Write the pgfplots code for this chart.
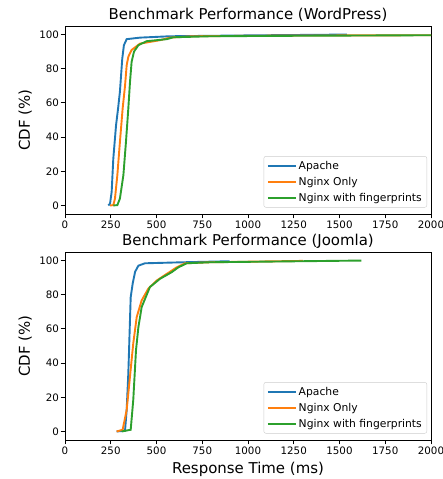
\documentclass[border=0pt]{standalone}
\usepackage{fontspec}
\setmainfont{DejaVu Sans}
\usepackage{pgfplots}
\pgfplotsset{compat=1.18}

\definecolor{c0}{HTML}{1F77B4}
\definecolor{c1}{HTML}{FF7F0E}
\definecolor{c2}{HTML}{2CA02C}

\pgfplotsset{
  cdfaxis/.style={
    scale only axis,
    width=366bp, height=188bp,
    xmin=0, xmax=2000, ymin=-5, ymax=105,
    xtick={0,250,...,2000}, ytick={0,20,...,100},
    tick align=outside, tick pos=left,
    major tick length=4.4bp,
    every tick/.style={black, line width=1bp},
    axis line style={black, line width=1bp},
    /pgf/number format/assume math mode=true,
    /pgf/number format/1000 sep={},
    tick label style={font=\fontsize{10.3}{12}\selectfont},
    yticklabel style={inner xsep=1.5bp},
    xticklabel style={inner ysep=2.5bp},
    title style={font=\fontsize{15}{18}\selectfont, at={(axis description cs:0.5,1)}, anchor=base, yshift=0.5bp},
    ylabel={CDF (\%)},
    every axis y label/.style={at={(axis description cs:-0.109,0.5)}, anchor=center, rotate=90, font=\fontsize{15}{18}\selectfont},
    every axis x label/.style={at={(axis description cs:0.5,-0.18)}, anchor=base, font=\fontsize{15}{18}\selectfont},
    legend cell align=left,
    legend style={at={(rel axis cs:1,0)}, anchor=south east, xshift=-4bp, yshift=6.5bp,
      draw=black!20, rounded corners=2pt, fill=white,
      font=\fontsize{10.8}{12}\selectfont, inner xsep=3bp, inner ysep=2.5bp, row sep=2.5bp},
    legend image code/.code={\draw[#1, line width=1.9bp] (0bp,0bp) -- (23bp,0bp);
      \path (-1bp,0bp) -- (27bp,0bp);},
    every axis plot/.append style={line width=1.9bp, mark=none},
  }
}

\begin{document}
\begin{tikzpicture}
\useasboundingbox (0,0) rectangle (443bp,-479bp);

\begin{axis}[cdfaxis, at={(65bp,-26bp)}, anchor=north west,
  title={Benchmark Performance (WordPress)}]
\addplot[color=c0] coordinates {(237,0) (246,1) (255,8) (264,27.5) (279,47) (290,56.7) (300,66.5) (313,86) (322,93.8) (337,97.3) (410,98.2) (574,99) (1000,99.5) (1540,100)};
\addlegendentry{Apache}
\addplot[color=c1] coordinates {(246,0) (264,0.2) (273,4) (286,17.7) (300,37) (315,56.7) (328,70) (337,82) (346,87) (364,91) (410,94.7) (519,96.7) (574,98.2) (701,99) (1200,99.4) (2000,99.6)};
\addlegendentry{Nginx Only}
\addplot[color=c2] coordinates {(264,0) (286,0.2) (300,4) (319,17.7) (333,37) (346,56.7) (355,72) (364,84) (377,90) (401,93.8) (446,96.1) (556,97.3) (592,98.4) (792,99) (1300,99.3) (2000,99.6)};
\addlegendentry{Nginx with fingerprints}
\end{axis}

\begin{axis}[cdfaxis, at={(65bp,-252bp)}, anchor=north west,
  title={Benchmark Performance (Joomla)}, xlabel={Response Time (ms)}]
\addplot[color=c0] coordinates {(282,0) (328,0.4) (337,12.6) (346,34) (350,47.6) (355,65) (359,78.6) (370,86.6) (383,93.4) (401,97) (437,98.4) (647,99) (900,99.6)};
\addlegendentry{Apache}
\addplot[color=c1] coordinates {(282,0) (315,1) (337,12.6) (355,32) (373,51.5) (392,67) (419,76.7) (455,83.5) (501,88.3) (556,92.2) (610,96) (656,98.4) (792,99) (1300,99.8)};
\addlegendentry{Nginx Only}
\addplot[color=c2] coordinates {(310,0) (359,1) (373,18.4) (388,47.6) (401,61) (419,72.8) (464,84.5) (519,89.3) (583,93.2) (619,96) (665,98.4) (792,99) (1620,100)};
\addlegendentry{Nginx with fingerprints}
\end{axis}
\end{tikzpicture}
\end{document}
